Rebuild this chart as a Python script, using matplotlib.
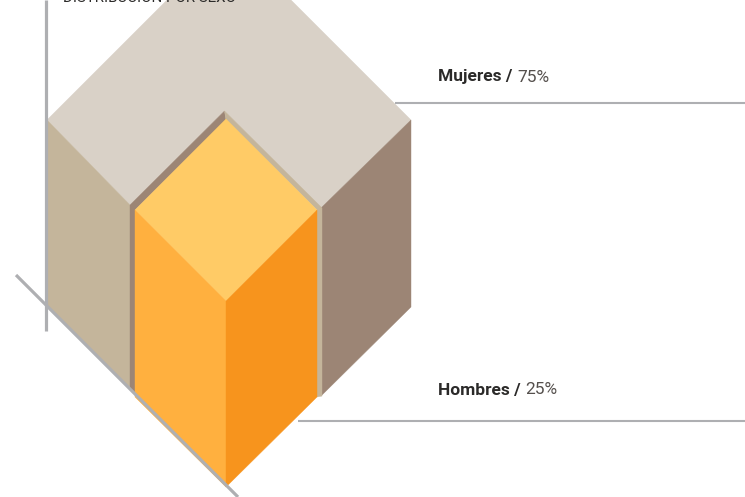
import numpy as np
import matplotlib
matplotlib.use('Agg')
import matplotlib.pyplot as plt
from matplotlib.patches import Polygon

labels = ['Mujeres', 'Hombres']
shares = [75, 25]
title = 'DISTRIBUCIÓN POR SEXO'

plt.rcParams['font.family'] = ['Roboto', 'Liberation Sans', 'DejaVu Sans']

fig = plt.figure(figsize=(7.45, 4.97), dpi=100)
ax = fig.add_axes([0, 0, 1, 1])
ax.set_xlim(0, 745)
ax.set_ylim(497, 0)      # same direction as the picture
ax.axis('off')

# the whole block is 100%, the small one gets its side from the share
half = 182
depth = 187
small = half * np.sqrt(shares[1] / (shares[0] + shares[1]))
cx, cy = 229, 120
sx, sy = 226, 210


def poly(pts, color, z=2):
    ax.add_patch(Polygon(pts, closed=True, fc=color, ec=color, lw=0.3, zorder=z))


# big block
poly([(cx - half, cy), (cx, cy - half), (cx + half, cy), (321, 208), (224.5, 111), (130, 205)], '#d9d1c7')
poly([(cx - half, cy), (130, 205), (130, 388), (cx - half, cy + depth)], '#c4b59b')
poly([(cx + half, cy), (321, 208), (321, 396), (cx + half, cy + depth)], '#9c8575')

# walls of the notch
poly([(130, 205), (224.5, 111), (226, 120), (sx - small, sy), (sx - small, 393), (130, 388)], '#9c8575')
poly([(224.5, 111), (322, 208), (322, 396), (sx + small, 397), (sx + small, sy), (226, 120)], '#c4b59b')

# small block
poly([(sx - small, sy), (sx, sy - small), (sx + small, sy), (sx, sy + small)], '#ffcb66', 3)
poly([(sx - small, sy), (sx, sy + small), (sx, sy + small + depth - 1), (sx - small, sy + depth)], '#ffb03f', 3)
poly([(sx + small, sy), (sx, sy + small), (sx, sy + small + depth - 1), (sx + small, sy + depth)], '#f7941d', 3)

# grey guide lines
line_c = '#aeafb2'
ax.plot([46, 46], [0, 331], color=line_c, lw=2.3, solid_capstyle='butt', zorder=4)
ax.plot([16, 238], [275, 497], color=line_c, lw=2.3, solid_capstyle='butt', zorder=4)
ax.plot([395, 745], [103, 103], color=line_c, lw=1.5, solid_capstyle='butt', zorder=1)
ax.plot([298, 745], [420.5, 420.5], color=line_c, lw=1.5, solid_capstyle='butt', zorder=1)

ax.text(63, -2, title, fontsize=10.9, color='#2b2a29', va='center', ha='left')

# label + value, value is put right after the bold part
for lab, val, y in zip(labels, shares, [77, 390]):
    t = ax.text(438.5, y, lab + ' / ', fontsize=12.5, fontweight='bold', color='#2b2a29', va='center', ha='left')
    ax.annotate(f'{val}%', xy=(1, 0), xycoords=t, xytext=(0, 0), textcoords='offset points',
                fontsize=12.5, color='#55504d', va='bottom', ha='left')

fig.savefig('out.png', dpi=100)
